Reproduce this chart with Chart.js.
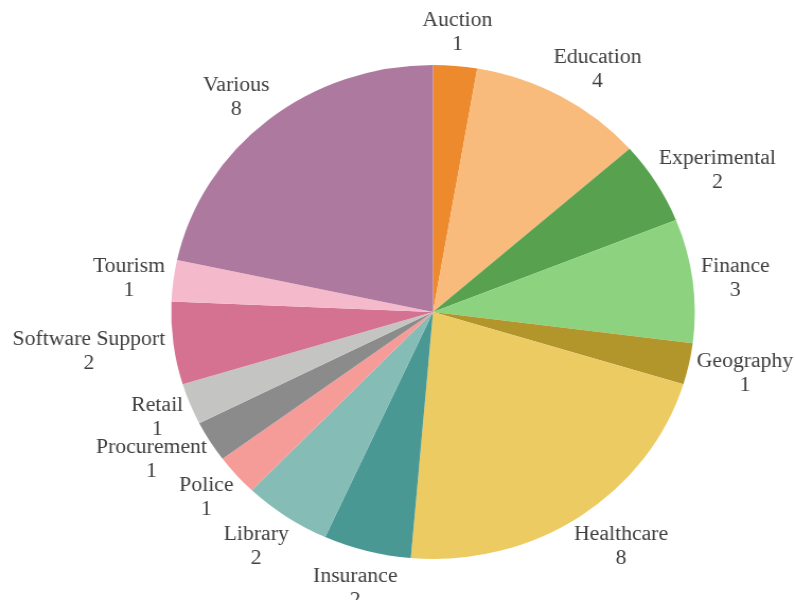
<!DOCTYPE html>
<html>
<head>
<meta charset="utf-8">
<title>Projects by domain</title>
<script src="https://cdn.jsdelivr.net/npm/chart.js@4.4.1/dist/chart.umd.min.js"></script>
<style>
  html, body { margin: 0; padding: 0; background: #ffffff; overflow: hidden; }
  /* the drawing is widened slightly so the pie reads as a flat ellipse */
  #wrap { width: 750px; height: 600px; transform: scale(1.06, 1); transform-origin: 0 0; }
  canvas { display: block; }
</style>
</head>
<body>
<div id="wrap"><canvas id="pie" width="750" height="600"></canvas></div>
<script>
// Domains, in drawing order (clockwise from twelve o'clock)
const categories = [
  'Auction', 'Education', 'Experimental', 'Finance', 'Geography', 'Healthcare',
  'Insurance', 'Library', 'Police', 'Procurement', 'Retail', 'Software Support',
  'Tourism', 'Various'
];

// Number of projects per domain
const counts = [1, 4, 2, 3, 1, 8, 2, 2, 1, 1, 1, 2, 1, 8];

// Slice fills
const sliceColors = [
  '#ee8a2e', '#f8bb7c', '#58a24f', '#8dd27e', '#b3962b', '#eccb63',
  '#4a9894', '#86bcb6', '#f69c98', '#8b8b8b', '#c4c4c2', '#d57292',
  '#f4b9cb', '#ae799f'
];

const LABEL_FONT = 'normal 400 20.5px "Liberation Serif", "Times New Roman", Times, serif';

function smoothstep(a, b, v) {
  const t = Math.min(1, Math.max(0, (v - a) / (b - a)));
  return t * t * (3 - 2 * t);
}

// Two-line "name / count" labels set just outside each slice:
// the text block hangs off a point a little beyond the rim, on the slice's mid-angle
const outsideLabels = {
  id: 'outsideLabels',
  afterDraw(chart) {
    const ctx = chart.ctx;
    const meta = chart.getDatasetMeta(0);
    const gap = 8;
    const lineH = 24;
    ctx.save();
    ctx.font = LABEL_FONT;
    ctx.fillStyle = '#404040';
    ctx.textAlign = 'center';
    ctx.textBaseline = 'middle';
    meta.data.forEach((arc, i) => {
      const p = arc.getProps(['x', 'y', 'startAngle', 'endAngle', 'outerRadius'], true);
      const mid = (p.startAngle + p.endAngle) / 2;
      const ux = Math.cos(mid), uy = Math.sin(mid);
      const name = chart.data.labels[i];
      const val = String(chart.data.datasets[0].data[i]);
      const w = Math.max(ctx.measureText(name).width, ctx.measureText(val).width);
      const h = lineH * 2;
      const px = p.x + ux * (p.outerRadius + gap);
      const py = p.y + uy * (p.outerRadius + gap);
      const ax = Math.abs(ux);
      const pushX = 0.5 * (ax + smoothstep(0.15, 0.5, ax));
      const cx = px + Math.sign(ux) * (w / 2) * pushX;
      const cy = py + uy * Math.abs(uy) * (h / 2) + Math.sign(uy) * 4 + 3;
      ctx.fillText(name, cx, cy - lineH / 2);
      ctx.fillText(val, cx, cy + lineH / 2);
    });
    ctx.restore();
  }
};

new Chart(document.getElementById('pie'), {
  type: 'pie',
  data: {
    labels: categories,
    datasets: [{
      data: counts,
      backgroundColor: sliceColors,
      borderWidth: 0
    }]
  },
  options: {
    responsive: false,
    animation: false,
    devicePixelRatio: 1,
    layout: { padding: { left: 161.5, right: 94.5, top: 65, bottom: 41 } },
    plugins: {
      legend: { display: false },
      tooltip: { enabled: false }
    }
  },
  plugins: [outsideLabels]
});
</script>
</body>
</html>
